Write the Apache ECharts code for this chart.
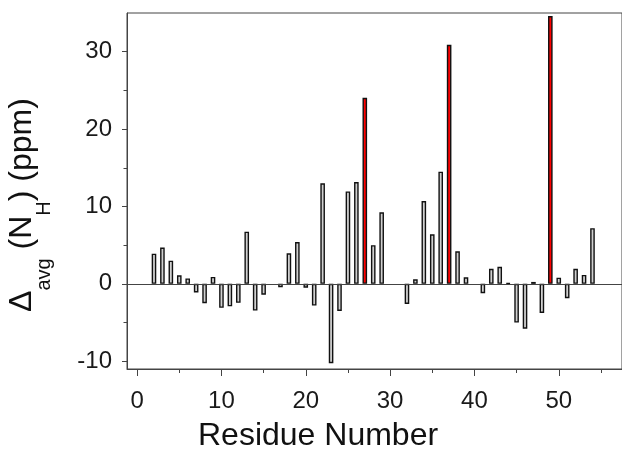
<!DOCTYPE html>
<html>
<head>
<meta charset="utf-8">
<script src="https://cdn.jsdelivr.net/npm/echarts@6/dist/echarts.min.js"></script>
<style>
html,body{margin:0;padding:0;background:#fff;}
#chart{width:622px;height:466px;}
</style>
</head>
<body>
<div id="chart"></div>
<script>
const residues = [2,3,4,5,6,7,8,9,10,11,12,13,14,15,17,18,19,20,21,22,23,24,25,26,27,28,29,32,33,34,35,36,37,38,39,41,42,43,44,45,46,47,48,49,50,51,52,53,54];
const shifts = [3.9,4.7,3.0,1.1,0.7,-1.1,-2.5,0.9,-3.1,-2.9,-2.45,6.75,-3.45,-1.4,-0.45,3.95,5.4,-0.5,-2.8,13.0,-10.25,-3.5,11.95,13.15,24.05,5.0,9.25,-2.6,0.6,10.7,6.4,14.5,30.9,4.2,0.85,-1.2,1.95,2.2,0.1,-5.0,-5.8,0.25,-3.75,34.6,0.8,-1.85,1.95,1.15,7.2];
const highlighted = [27, 37, 49];
const xMajorTicks = [0, 10, 20, 30, 40, 50];
const xMinorTicks = [5, 15, 25, 35, 45, 55];
const yMajorTicks = [-10, 0, 10, 20, 30];
const yMinorTicks = [-5, 5, 15, 25];

const FONT = 'Liberation Sans, Arial, sans-serif';
const AX = '#444';
const chart = echarts.init(document.getElementById('chart'), null, {renderer: 'canvas'});

const gridRect = {left: 127, top: 13, width: 500, height: 356};
const xRange = {min: -1.2, max: 57.5};
const yRange = {min: -11, max: 35};

chart.setOption({
  animation: false,
  backgroundColor: '#fff',
  title: {
    text: 'Residue Number',
    left: 193, top: 415,
    textStyle: {fontSize: 32, fontWeight: 'normal', fontFamily: FONT, color: '#111'}
  },
  graphic: [{
    type: 'text',
    x: 6, y: 205,
    rotation: Math.PI / 2,
    style: {
      text: '{m|Δ}{s|avg}{m| (N}{s|H}{m|) (ppm)}',
      align: 'center',
      verticalAlign: 'top',
      fill: '#111',
      font: '32px ' + FONT,
      rich: {
        m: {fontSize: 32, lineHeight: 32, verticalAlign: 'top', fontFamily: FONT, fill: '#111'},
        s: {fontSize: 20, lineHeight: 48, verticalAlign: 'bottom', fontFamily: FONT, fill: '#111'}
      }
    }
  }],
  grid: [
    Object.assign({show: true, borderColor: AX, borderWidth: 1, backgroundColor: 'transparent'}, gridRect),
    Object.assign({show: false}, gridRect)
  ],
  xAxis: [
    Object.assign({
      type: 'value', gridIndex: 0, position: 'bottom',
      axisLine: {show: true, onZero: false, lineStyle: {color: AX, width: 1}},
      axisTick: {show: true, customValues: xMajorTicks, length: 7, lineStyle: {color: AX, width: 1}},
      axisLabel: {customValues: xMajorTicks, fontSize: 24, fontFamily: FONT, color: '#1a1a1a', margin: 20},
      splitLine: {show: false}
    }, xRange),
    Object.assign({
      type: 'value', gridIndex: 1, position: 'bottom',
      axisLine: {show: false, onZero: false},
      axisTick: {show: true, customValues: xMinorTicks, length: 4, lineStyle: {color: AX, width: 1}},
      axisLabel: {show: false},
      splitLine: {show: false}
    }, xRange)
  ],
  yAxis: [
    Object.assign({
      type: 'value', gridIndex: 0, position: 'left',
      axisLine: {show: true, onZero: false, lineStyle: {color: AX, width: 1}},
      axisTick: {show: true, customValues: yMajorTicks, length: 5, lineStyle: {color: AX, width: 1}},
      axisLabel: {customValues: yMajorTicks, fontSize: 24, fontFamily: FONT, color: '#1a1a1a', margin: 15},
      splitLine: {show: false}
    }, yRange),
    Object.assign({
      type: 'value', gridIndex: 1, position: 'left',
      axisLine: {show: false, onZero: false},
      axisTick: {show: true, customValues: yMinorTicks, length: 3.5, lineStyle: {color: AX, width: 1}},
      axisLabel: {show: false},
      splitLine: {show: false}
    }, yRange)
  ],
  series: [{
    type: 'bar',
    xAxisIndex: 0, yAxisIndex: 0,
    barWidth: 4.6,
    itemStyle: {color: '#d0d0d0', borderColor: '#111', borderWidth: 1.4},
    data: residues.map((r, i) => ({
      value: [r, shifts[i]],
      itemStyle: highlighted.indexOf(r) >= 0 ? {color: '#ff0000'} : undefined
    })),
    markLine: {
      silent: true,
      symbol: 'none',
      label: {show: false},
      lineStyle: {color: AX, width: 1, type: 'solid'},
      data: [{yAxis: 0}]
    }
  }]
});
</script>
</body>
</html>
